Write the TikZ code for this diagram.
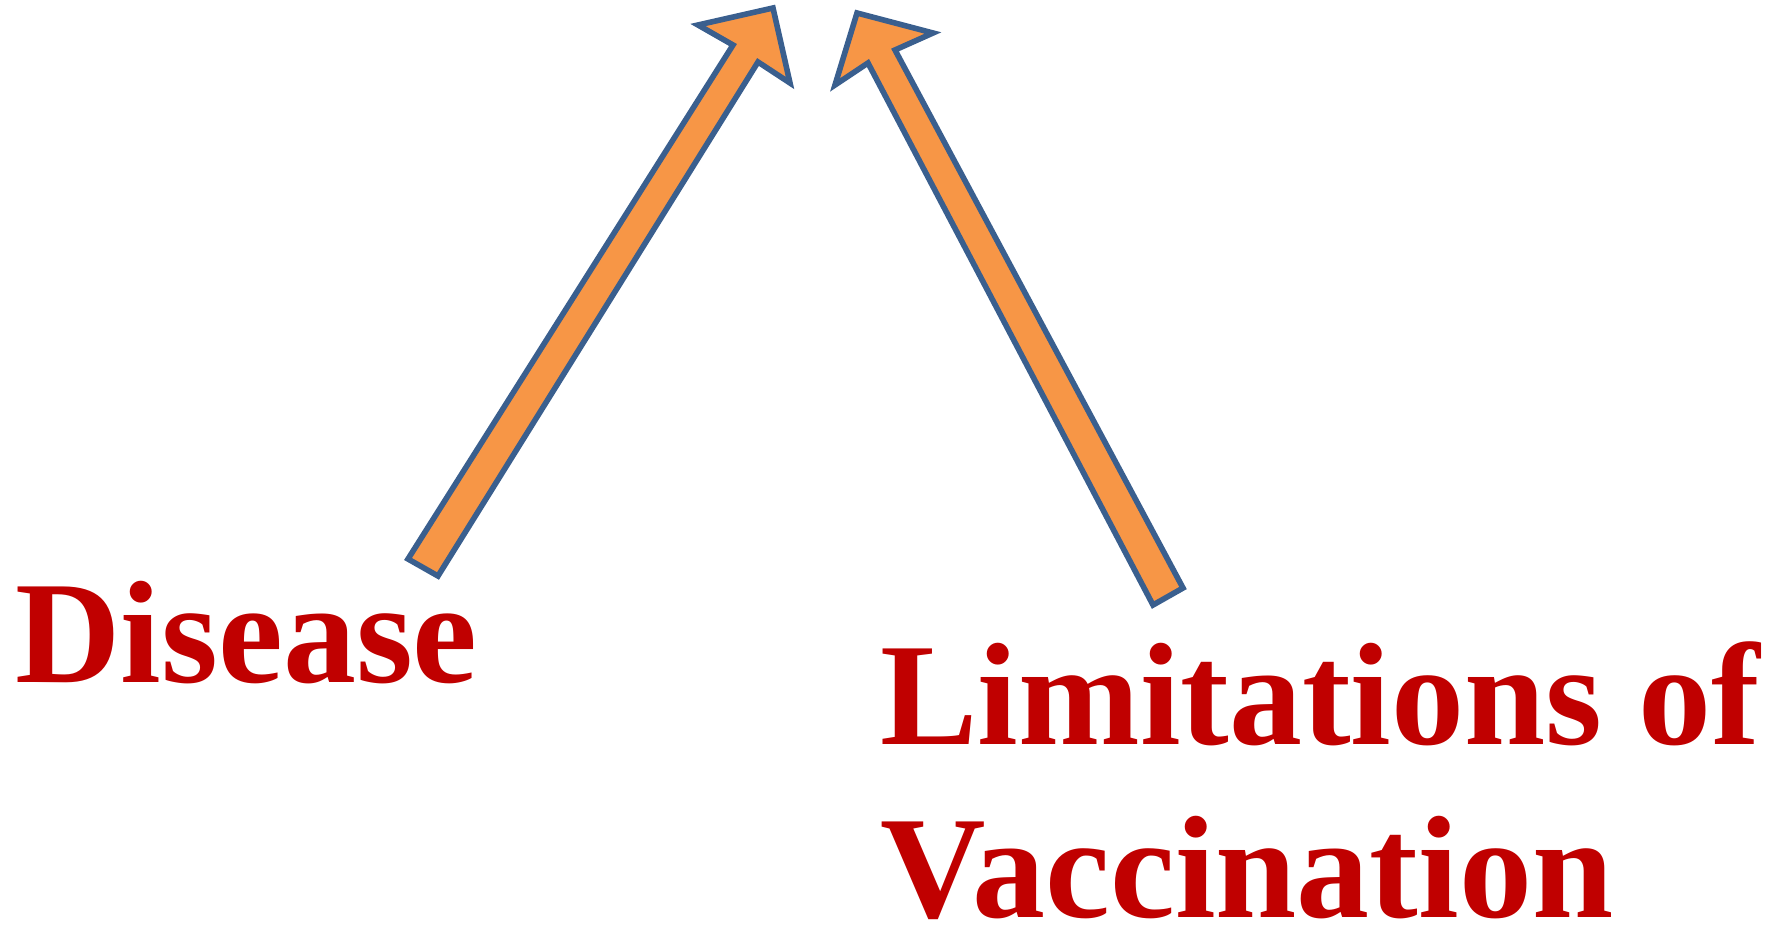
\documentclass[tikz,border=0pt]{standalone}
\usepackage{fontspec}
\setmainfont{Liberation Serif}
\usepackage{tikz}
\usetikzlibrary{positioning}
\definecolor{arrowfill}{HTML}{F79646}
\definecolor{arrowline}{HTML}{3A5F8E}
\definecolor{labelred}{HTML}{C00000}
\tikzset{
  bigarrow/.style={fill=arrowfill,draw=arrowline,line width=2.8pt,line join=miter},
  biglabel/.style={anchor=base west,inner sep=0pt,text=labelred,text depth=0pt,
    font=\fontsize{73}{88}\selectfont\bfseries}
}

\begin{document}
\begin{tikzpicture}[x=0.5pt,y=-0.5pt]
\useasboundingbox (0,0) rectangle (1776,925);
% arrow from Disease
\draw[bigarrow] (408,559) -- (438,576) -- (758,62) -- (790,83)
  -- (773,8) -- (698,25) -- (733,45) -- cycle;
% arrow from Limitations of Vaccination
\draw[bigarrow] (1183,588) -- (1153,605) -- (868,63) -- (835,85)
  -- (857,13) -- (933,33) -- (895,50) -- cycle;
% labels
\node[biglabel] (disease) at (15,682) {Disease};
\node[biglabel] (limits) at (880,744) {Limitations of};
\node[biglabel] (vaccine) at (880,917) {Vaccination};
\end{tikzpicture}
\end{document}
